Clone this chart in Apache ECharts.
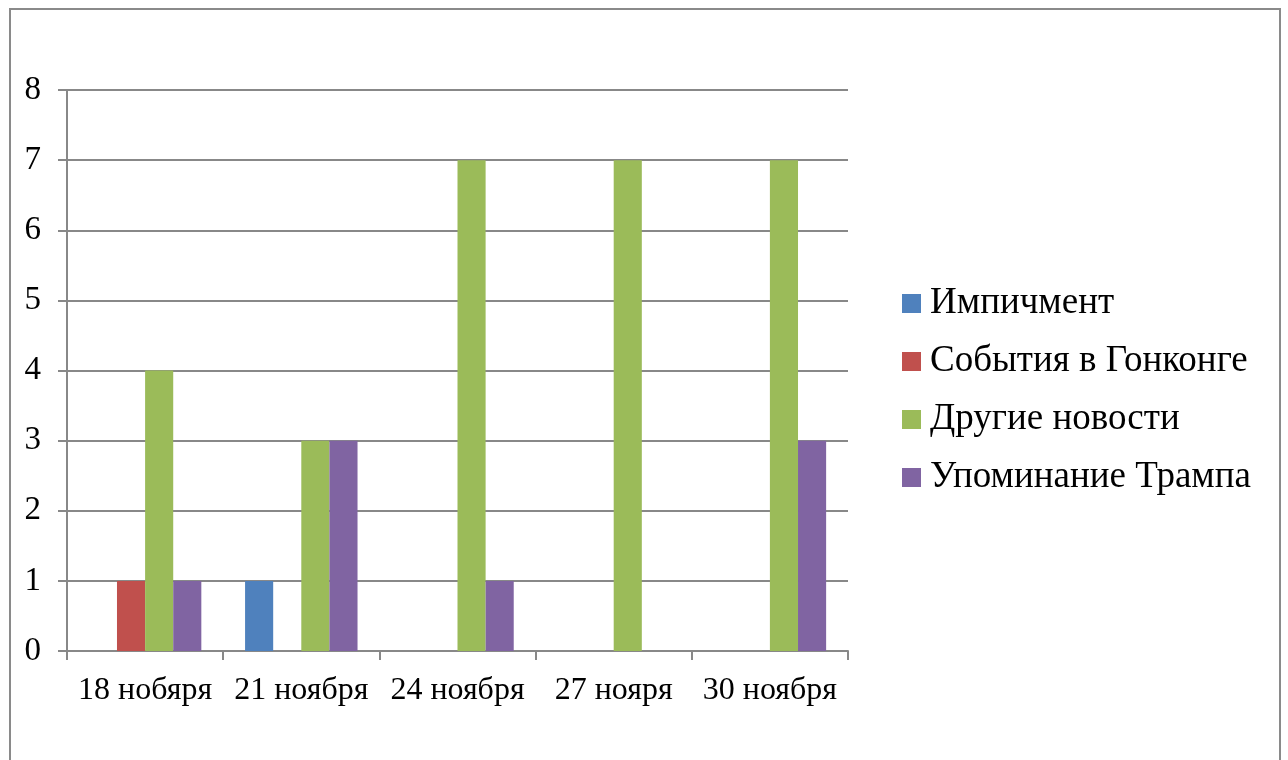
<!DOCTYPE html>
<html>
<head>
<meta charset="utf-8">
<script src="https://cdn.jsdelivr.net/npm/echarts@6/dist/echarts.min.js"></script>
<style>html,body{margin:0;padding:0;background:#fff;}#c{width:1288px;height:760px;}</style>
</head>
<body>
<div id="c"></div>
<script>
const categories = ['18 нобяря', '21 ноября', '24 ноября', '27 нояря', '30 ноября'];
const seriesNames = ['Импичмент', 'События в Гонконге', 'Другие новости', 'Упоминание Трампа'];
const impeachment = [0, 1, 0, 0, 0];
const hongKong = [1, 0, 0, 0, 0];
const otherNews = [4, 3, 7, 7, 7];
const trump = [1, 3, 1, 0, 3];
const yTicks = [0, 1, 2, 3, 4, 5, 6, 7, 8];

const colors = ['#4F81BD', '#C0504D', '#9BBB59', '#8064A2'];
const values = [impeachment, hongKong, otherNews, trump];
const font = '"Liberation Serif", "Times New Roman", serif';
const gray = '#888888';

const chart = echarts.init(document.getElementById('c'), null, {renderer: 'canvas'});
chart.setOption({
  animation: false,
  backgroundColor: '#ffffff',
  color: colors,
  graphic: [{
    type: 'rect',
    shape: {x: 10, y: 9, width: 1270, height: 780},
    style: {fill: 'none', stroke: '#8a8a8a', lineWidth: 2},
    silent: true
  }],
  grid: {left: 67, right: 440, top: 90, bottom: 109, containLabel: false},
  legend: {
    orient: 'vertical',
    left: 902,
    top: 285,
    padding: 0,
    itemWidth: 19,
    itemHeight: 19,
    itemGap: 21,
    icon: 'rect',
    data: seriesNames,
    textStyle: {fontFamily: font, fontSize: 37, lineHeight: 37, color: '#000', padding: [0, 0, 0, 4]}
  },
  xAxis: {
    type: 'category',
    data: categories,
    axisLine: {lineStyle: {color: gray, width: 2}},
    axisTick: {show: true, length: 9, alignWithLabel: false, lineStyle: {color: gray, width: 2}},
    axisLabel: {fontFamily: font, fontSize: 32, color: '#000', margin: 24, interval: 0}
  },
  yAxis: {
    type: 'value',
    min: yTicks[0],
    max: yTicks[yTicks.length - 1],
    interval: 1,
    axisLine: {show: true, lineStyle: {color: gray, width: 2}},
    axisTick: {show: true, length: 9, lineStyle: {color: gray, width: 2}},
    axisLabel: {fontFamily: font, fontSize: 33, color: '#000', margin: 26},
    splitLine: {show: true, lineStyle: {color: gray, width: 2}}
  },
  series: seriesNames.map((n, i) => ({
    name: n,
    type: 'bar',
    data: values[i],
    barGap: '0%',
    barCategoryGap: '28%',
    itemStyle: {color: colors[i]}
  }))
});
</script>
</body>
</html>
